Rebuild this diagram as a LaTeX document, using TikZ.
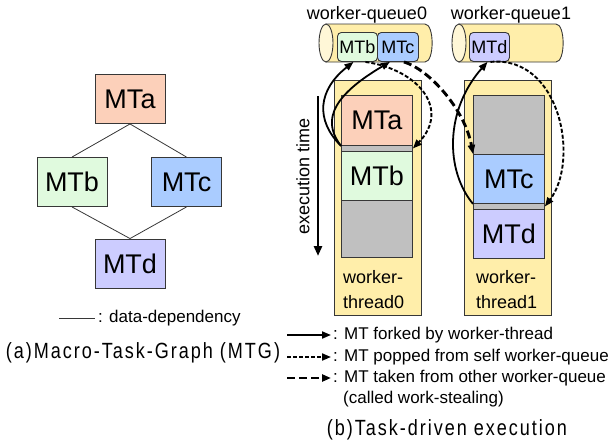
\documentclass[tikz,border=0pt]{standalone}
\usepackage{fontspec}
\setmainfont{Liberation Sans}
\newfontfamily\capfont[LetterSpace=9,FakeStretch=0.82]{Liberation Sans}
\usetikzlibrary{arrows.meta,calc}
\definecolor{cA}{RGB}{252,208,186}
\definecolor{cB}{RGB}{224,250,222}
\definecolor{cC}{RGB}{170,204,255}
\definecolor{cD}{RGB}{204,204,255}
\definecolor{cY}{RGB}{255,238,170}
\definecolor{cYl}{RGB}{255,247,215}
\definecolor{cG}{RGB}{192,192,192}
\definecolor{edge}{RGB}{55,55,55}
\begin{document}
\begin{tikzpicture}[x=1pt,y=-1pt,
  gbox/.style={draw=edge, line width=0.9pt, minimum width=70pt, minimum height=49pt, inner sep=0pt, font=\fontsize{27}{30}\selectfont},
  tbox/.style={draw=edge, line width=0.9pt, minimum width=71pt, inner sep=0pt, anchor=north west, font=\fontsize{27}{30}\selectfont},
  colbox/.style={draw=edge, line width=0.9pt, fill=cY, minimum width=87pt, minimum height=235pt, inner sep=0pt, anchor=north west},
  qbox/.style={draw=edge, line width=0.9pt, rounded corners=4pt, minimum height=29pt, inner sep=0pt, anchor=north west, font=\fontsize{18}{20}\selectfont},
  dep/.style={draw=edge, line width=0.8pt},
  lbl/.style={font=\fontsize{17}{21}\selectfont, inner sep=0pt},
  bigl/.style={font=\fontsize{18}{22}\selectfont, inner sep=0pt},
  capt/.style={font=\capfont\fontsize{22}{26}\selectfont, inner sep=0pt},
  forkarr/.style={line width=1.8pt, -{Triangle[length=9pt,width=7pt]}},
  poparr/.style={line width=1.9pt, dash pattern=on 4pt off 2pt, -{Triangle[length=9pt,width=7pt]}},
  stealarr/.style={line width=2.9pt, dash pattern=on 8pt off 4pt, -{Triangle[length=9pt,width=7pt]}},
  cylbody/.style={draw=edge, line width=0.9pt, fill=cY},
  cylend/.style={draw=edge, line width=0.9pt, fill=cYl}
]
\useasboundingbox (0,0) rectangle (610,445);

% ---------- (a) MTG ----------
\node[gbox, fill=cA] (ga) at (130,99) {MTa};
\node[gbox, fill=cB] (gb) at (72,182) {MTb};
\node[gbox, fill=cC] (gc) at (186.5,182) {MTc};
\node[gbox, fill=cD] (gd) at (130,263.5) {MTd};
\draw[dep] (ga.south) -- (gb.north);
\draw[dep] (ga.south) -- (gc.north);
\draw[dep] (gb.south) -- (gd.north);
\draw[dep] (gc.south) -- (gd.north);

\coordinate (dl0) at (59,318);
\coordinate (dl1) at (95,318);
\draw[dep] (dl0) -- (dl1);
\node[lbl, anchor=west] (dltxt) at (98,318) {: data-dependency};
\node[capt] (capa) at (143,353) {(a)Macro-Task-Graph (MTG)};

% ---------- queues ----------
\node[bigl, anchor=base] (wq0) at (367,19) {worker-queue0};
\node[bigl, anchor=base] (wq1) at (511,19) {worker-queue1};

\path[cylbody] (326,24) -- (425,24) .. controls (434.5,24) and (434.5,62) .. (425,62) -- (326,62) -- cycle;
\path[cylend] (326,43) ellipse [x radius=7, y radius=19];
\path[cylbody] (459,24) -- (556,24) .. controls (565.5,24) and (565.5,62) .. (556,62) -- (459,62) -- cycle;
\path[cylend] (459,43) ellipse [x radius=7, y radius=19];

\node[qbox, fill=cB, minimum width=40pt] (qb) at (337,32) {MTb};
\node[qbox, fill=cC, minimum width=41pt] (qc) at (377,32) {MTc};
\node[qbox, fill=cD, minimum width=40pt] (qd) at (469,32) {MTd};

% ---------- threads ----------
\node[colbox] (t0) at (334,80) {};
\node[colbox] (t1) at (464,80) {};

\node[tbox, fill=cA, minimum height=50pt] (t0a) at (341,95) {MTa};
\node[tbox, fill=cG, minimum height=6pt] (t0s) at (341,145) {};
\node[tbox, fill=cB, minimum height=49pt] (t0b) at (341,151) {MTb};
\node[tbox, fill=cG, minimum height=57pt] (t0g) at (341,200) {};

\node[tbox, fill=cG, minimum height=59pt] (t1g) at (473,95) {};
\node[tbox, fill=cC, minimum height=49pt] (t1c) at (473,154) {MTc};
\node[tbox, fill=cG, minimum height=6pt] (t1s) at (473,203) {};
\node[tbox, fill=cD, minimum height=49pt] (t1d) at (473,209) {MTd};

\node[bigl, anchor=north west, align=left] (wt0) at (343,270) {worker-\\[3pt]thread0};
\node[bigl, anchor=north west, align=left] (wt1) at (476,270) {worker-\\[3pt]thread1};

% execution time
\coordinate (et0) at (318,96);
\coordinate (et1) at (318,256);
\draw[line width=2.5pt, -{Triangle[length=10pt,width=8pt]}] (et0) -- (et1);
\node[bigl, rotate=90] (ettxt) at (303,176) {execution time};

% ---------- arrows ----------
\draw[forkarr] (t0a.south west) .. controls (315,120) and (318,90) .. ($(qb.south)+(-4,0)$);
\draw[forkarr] (t0a.south west) .. controls (325,125) and (325,100) .. ($(qc.south)+(-8,0)$);
\draw[poparr] ($(qb.south)+(8,0)$) .. controls (420,70) and (450,110) .. (t0s.east);
\draw[stealarr] ($(qc.south)+(6,0)$) .. controls (430,70) and (465,110) .. (t1c.north west);
\draw[forkarr] (t1c.south west) .. controls (445,170) and (445,110) .. ($(qd.south)+(-2,0)$);
\draw[poparr] ($(qd.south)+(1,0)$) .. controls (560,55) and (580,160) .. (t1s.east);

% ---------- legend (b) ----------
\coordinate (l1a) at (287,335); \coordinate (l1b) at (331,335);
\coordinate (l2a) at (287,357); \coordinate (l2b) at (331,357);
\coordinate (l3a) at (287,378); \coordinate (l3b) at (331,378);
\draw[forkarr] (l1a) -- (l1b);
\draw[poparr] (l2a) -- (l2b);
\draw[stealarr] (l3a) -- (l3b);
\node[lbl, anchor=west] (lt1) at (333,335) {: MT forked by worker-thread};
\node[lbl, anchor=west] (lt2) at (333,357) {: MT popped from self worker-queue};
\node[lbl, anchor=west] (lt3) at (333,378) {: MT taken from other worker-queue};
\node[lbl, anchor=west] (lt4) at (343,399) {(called work-stealing)};
\node[capt] (capb) at (447,430) {(b)Task-driven execution};
\end{tikzpicture}
\end{document}
